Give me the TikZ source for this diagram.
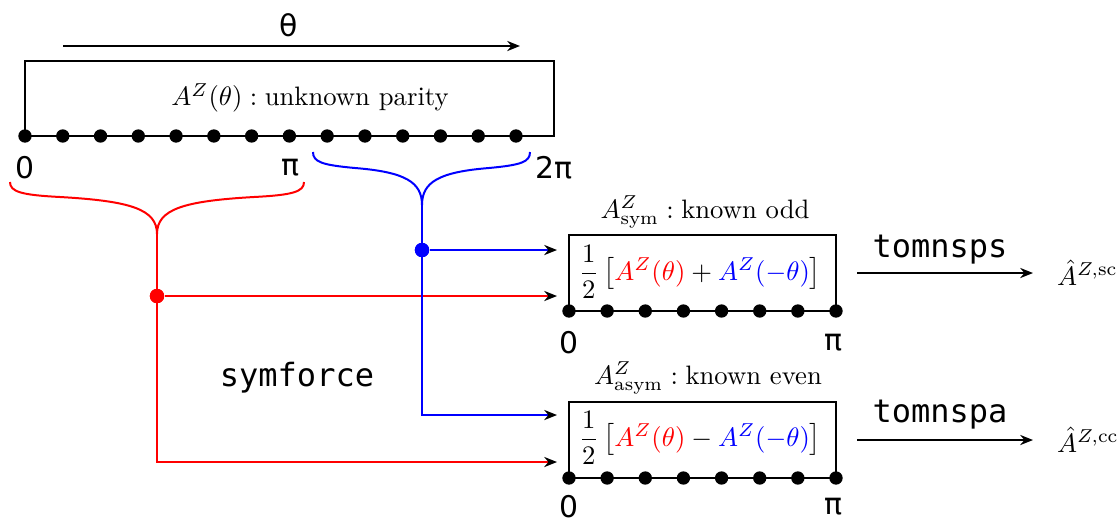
\documentclass[tikz,border=0pt]{standalone}
\usepackage{amsmath}
\usepackage{fontspec}
\newfontfamily\lblfont{DejaVu Sans}
\newfontfamily\codefont{DejaVu Sans Mono}
\usetikzlibrary{arrows.meta}
\begin{document}
\begin{tikzpicture}[x=0.375pt,y=-0.375pt,
  line width=0.75pt,
  tip/.tip={Stealth[length=4.8pt,width=3.8pt,black]},
  dot/.style={circle,fill=black,inner sep=0pt,minimum size=5pt},
  cdot/.style={circle,inner sep=0pt,minimum size=5.4pt},
  lbl/.style={font=\lblfont\fontsize{11.2}{13}\selectfont,inner sep=0pt},
  code/.style={font=\codefont\fontsize{12}{14}\selectfont,inner sep=0pt},
  mth/.style={font=\fontsize{10}{12}\selectfont,inner sep=0pt},
  fml/.style={font=\fontsize{10.4}{12}\selectfont,inner sep=0pt},
  outm/.style={font=\fontsize{10.2}{12}\selectfont,inner sep=0pt},
  rl/.style={red},
  bl/.style={blue},
  box/.style={draw,inner sep=0pt}]
\useasboundingbox (0,0) rectangle (1118,522);

% theta arrow
\node[lbl] (theta) at (289,25) {θ};
\coordinate (ta) at (63,46);
\coordinate (tb) at (520,46);
\draw[-tip] (ta) -- (tb);

% top box
\node[box,minimum width=198.4pt,minimum height=28.1pt] (topbox) at (289.5,98.5) {};
\node[mth] (toptxt) at (310,98) {$A^Z(\theta):\text{unknown parity}$};
\foreach \i in {0,...,13} \node[dot] (td\i) at ({25+\i*37.77},136) {};
\node[lbl] (l0) at (25,168) {0};
\node[lbl] (lpi) at (290,168) {π};
\node[lbl] (l2pi) at (554,168) {2π};

% red brace
\coordinate (rtip) at (157,234);
\draw[rl] (10,182) .. controls (10,192) and (22,195) .. (60,197)
  .. controls (130,201) and (157,209) .. (rtip)
  .. controls (157,209) and (184,201) .. (254,197)
  .. controls (292,195) and (304,192) .. (304,182);
% blue brace
\coordinate (btip) at (422,205);
\draw[bl] (313,152) .. controls (313,162) and (322,165) .. (355,168)
  .. controls (405,172) and (422,182) .. (btip)
  .. controls (422,182) and (439,172) .. (489,168)
  .. controls (521,165) and (530,162) .. (530,152);

% box 1
\node[box,minimum width=100.1pt,minimum height=28.5pt] (box1) at (702.5,273) {};
\node[fml] (f1) at (700,272) {$\dfrac{1}{2}\left[{\color{red}A^Z(\theta)}+{\color{blue}A^Z(-\theta)}\right]$};
\node[mth] (h1) at (705,212) {$A^Z_{\mathrm{sym}}:\text{known odd}$};
\foreach \i in {0,...,7} \node[dot] (ad\i) at ({569+\i*38.14},311) {};
\node[lbl] (a0) at (569,343) {0};
\node[lbl] (api) at (833,343) {π};

% box 2
\node[box,minimum width=100.1pt,minimum height=28.5pt] (box2) at (702.5,440) {};
\node[fml] (f2) at (700,438) {$\dfrac{1}{2}\left[{\color{red}A^Z(\theta)}-{\color{blue}A^Z(-\theta)}\right]$};
\node[mth] (h2) at (708,378) {$A^Z_{\mathrm{asym}}:\text{known even}$};
\foreach \i in {0,...,7} \node[dot] (bd\i) at ({569+\i*38.14},478) {};
\node[lbl] (b0) at (569,507) {0};
\node[lbl] (bpi) at (833,507) {π};

% connectors
\coordinate (r1) at (557,296);
\coordinate (r2) at (557,462);
\coordinate (b1) at (557,250);
\coordinate (b2) at (557,415);
\node[cdot,fill=red] (rdot) at (157,296) {};
\node[cdot,fill=blue] (bdot) at (422,250) {};
\draw[rl,-tip] (rtip) |- (r2);
\draw[rl,-tip] (rdot) -- (r1);
\draw[bl,-tip] (btip) |- (b2);
\draw[bl,-tip] (bdot) -- (b1);
\node[cdot,fill=red] at (rdot) {};
\node[cdot,fill=blue] at (bdot) {};

\node[code] (sym) at (297,378) {symforce};

% outputs
\coordinate (o1a) at (857,273);
\coordinate (o2a) at (857,440);
\node[outm,anchor=west] (out1) at (1056,273) {$\hat{A}^{Z,\mathrm{sc}}$};
\node[outm,anchor=west] (out2) at (1056,440) {$\hat{A}^{Z,\mathrm{cc}}$};
\coordinate (o1b) at (1033,273);
\coordinate (o2b) at (1033,440);
\draw[-tip] (o1a) -- (o1b);
\draw[-tip] (o2a) -- (o2b);
\node[code] (t1) at (940,250) {tomnsps};
\node[code] (t2) at (940,415) {tomnspa};
\end{tikzpicture}
\end{document}
